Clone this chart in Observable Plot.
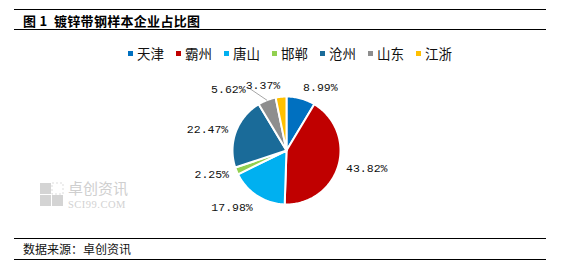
<!DOCTYPE html>
<html><head><meta charset="utf-8">
<script src="https://cdn.jsdelivr.net/npm/d3@7"></script>
<script src="https://cdn.jsdelivr.net/npm/@observablehq/plot@0.6"></script>
<style>
body{margin:0;background:#fff;}
#wrap{position:relative;width:563px;height:274px;overflow:hidden;font-family:"Noto Sans CJK SC",sans-serif;}
.hline{position:absolute;left:14px;width:532px;height:0;border-top:1.6px solid #000;}
#title{position:absolute;left:23px;top:11px;font-size:13px;font-weight:bold;color:#000;letter-spacing:0.3px;}
#src{position:absolute;left:23px;top:240px;font-size:12px;color:#111;}
#legend{position:absolute;left:128px;top:43px;display:flex;font-size:13.5px;color:#111;}
#legend .it{display:flex;align-items:center;margin-right:12px;}
#legend .sw{width:5px;height:5px;margin-right:4px;}
#wm{position:absolute;left:38px;top:178px;color:#d0d0d0;}
#chart{position:absolute;left:0;top:0;}
</style></head>
<body>
<div id="wrap">
  <div class="hline" style="top:9px"></div>
  <div id="title">图 1&nbsp; 镀锌带钢样本企业占比图</div>
  <div class="hline" style="top:29px"></div>
  <div id="legend"></div>
  <div id="chart"></div>
  <div id="wm">
    <svg width="120" height="40" style="position:absolute;left:0;top:0">
      <rect x="2" y="5" width="11" height="11" fill="#d4d4d4"/>
      <rect x="14" y="17" width="11" height="11" fill="#d4d4d4"/>
      <rect x="2" y="17" width="11" height="11" fill="#d4d4d4"/>
      <rect x="14" y="5" width="11" height="11" fill="none" stroke="#ddd" stroke-dasharray="2 2"/>
      <text x="30" y="16" font-size="15" fill="#cfcfcf" font-family="Noto Sans CJK SC">卓创资讯</text>
      <text x="30" y="30" font-size="10.5" fill="#d2d2d2" font-family="Liberation Serif" letter-spacing="0.5">SCI99.COM</text>
    </svg>
  </div>
  <div class="hline" style="top:238px"></div>
  <div id="src">数据来源：卓创资讯</div>
  <div class="hline" style="top:259px"></div>
</div>
<script>
const regions = ["天津","霸州","唐山","邯郸","沧州","山东","江浙"];
const shares = [8.99, 43.82, 17.98, 2.25, 22.47, 5.62, 3.37];
const colors = ["#0070C0","#C00000","#00B0F0","#92D050","#1A6B99","#8E8E8E","#FFC000"];

const data = regions.map((name, i) => ({name, value: shares[i]}));
const arcs = d3.pie().sort(null).value(d => d.value)(data);

const cx = 286, cy0 = 150, R = 54;

// polygon outline of each slice (unit circle coordinates, y up)
const pts = [];
arcs.forEach(a => {
  const n = Math.max(4, Math.ceil((a.endAngle - a.startAngle) / 0.02));
  pts.push({name: a.data.name, x: 0, y: 0});
  for (let k = 0; k <= n; k++) {
    const t = a.startAngle + (a.endAngle - a.startAngle) * k / n;
    pts.push({name: a.data.name, x: Math.sin(t), y: Math.cos(t)});
  }
  pts.push({name: a.data.name, x: 0, y: 0});
});

// labels at outside end along mid-angle, with simple horizontal collision avoidance
const rr = 1.15, charW = 6.9 / R, lineH = 12 / R;
const labels = arcs.map(a => {
  const m = (a.startAngle + a.endAngle) / 2;
  const sx = Math.sin(m), cy = Math.cos(m);
  const text = a.data.value.toFixed(2) + "%";
  return {
    text, m, sx, cy,
    ex: sx, ey: cy,
    x: sx * rr, y: cy * rr,
    w: text.length * charW,
    ta: sx >= 0 ? "start" : "end",
    la: cy > 0.6 ? "bottom" : (cy < -0.6 ? "top" : "middle"),
    shifted: false
  };
});
function box(d) {
  const x0 = d.ta === "start" ? d.x : d.x - d.w;
  const y1 = d.la === "bottom" ? d.y + lineH : d.la === "top" ? d.y : d.y + lineH / 2;
  return [x0, x0 + d.w, y1 - lineH, y1];
}
function overlap(a, b) {
  const A = box(a), B = box(b);
  return A[0] < B[1] && B[0] < A[1] && A[2] < B[3] && B[2] < A[3];
}
// left side: walk from top (end of the pie) backwards
const left = labels.filter(d => d.sx < 0).sort((a, b) => b.m - a.m);
const right = labels.filter(d => d.sx >= 0).sort((a, b) => a.m - b.m);
for (const side of [left, right]) {
  const placed = [];
  for (const d of side) {
    let guard = 0;
    while (placed.some(p => overlap(p, d)) && guard++ < 200) {
      d.x += (d.sx < 0 ? -1 : 1) * 0.02;
      d.shifted = true;
    }
    placed.push(d);
  }
}
const leaders = [];
labels.filter(d => d.shifted).forEach((d, i) => {
  leaders.push({id: i, x: d.ex * 1.0, y: d.ey * 1.0});
  leaders.push({id: i, x: d.x + (d.sx < 0 ? 0.04 : -0.04), y: d.y + (d.la === "middle" ? 0 : d.la === "bottom" ? 0.1 : -0.1)});
});

const lg = document.getElementById("legend");
regions.forEach((r, i) => {
  const it = document.createElement("div"); it.className = "it";
  it.innerHTML = `<span class="sw" style="background:${colors[i]}"></span><span>${r}</span>`;
  lg.appendChild(it);
});

const textMarks = [];
for (const ta of ["start","end"]) for (const la of ["top","middle","bottom"]) {
  const sub = labels.filter(d => d.ta === ta && d.la === la);
  if (sub.length) textMarks.push(Plot.text(sub, {x: "x", y: "y", text: "text", textAnchor: ta, lineAnchor: la,
    fontSize: 11.5, fontFamily: "Liberation Mono, DejaVu Sans Mono, monospace", fill: "#111"}));
}

const chart = Plot.plot({
  width: 563, height: 274,
  margin: 0,
  style: {background: "transparent", overflow: "visible"},
  x: {domain: [-1, 1], range: [cx - R, cx + R], axis: null},
  y: {domain: [-1, 1], range: [cy0 + R, cy0 - R], axis: null},
  color: {domain: regions, range: colors},
  marks: [
    Plot.line(pts, {x: "x", y: "y", z: "name", fill: "name", stroke: "#fff", strokeWidth: 2, strokeLinejoin: "round", curve: "linear"}),
    Plot.line(leaders, {x: "x", y: "y", z: "id", stroke: "#a6a6a6", strokeWidth: 1}),
    ...textMarks
  ]
});
document.getElementById("chart").appendChild(chart);
</script>
</body></html>
